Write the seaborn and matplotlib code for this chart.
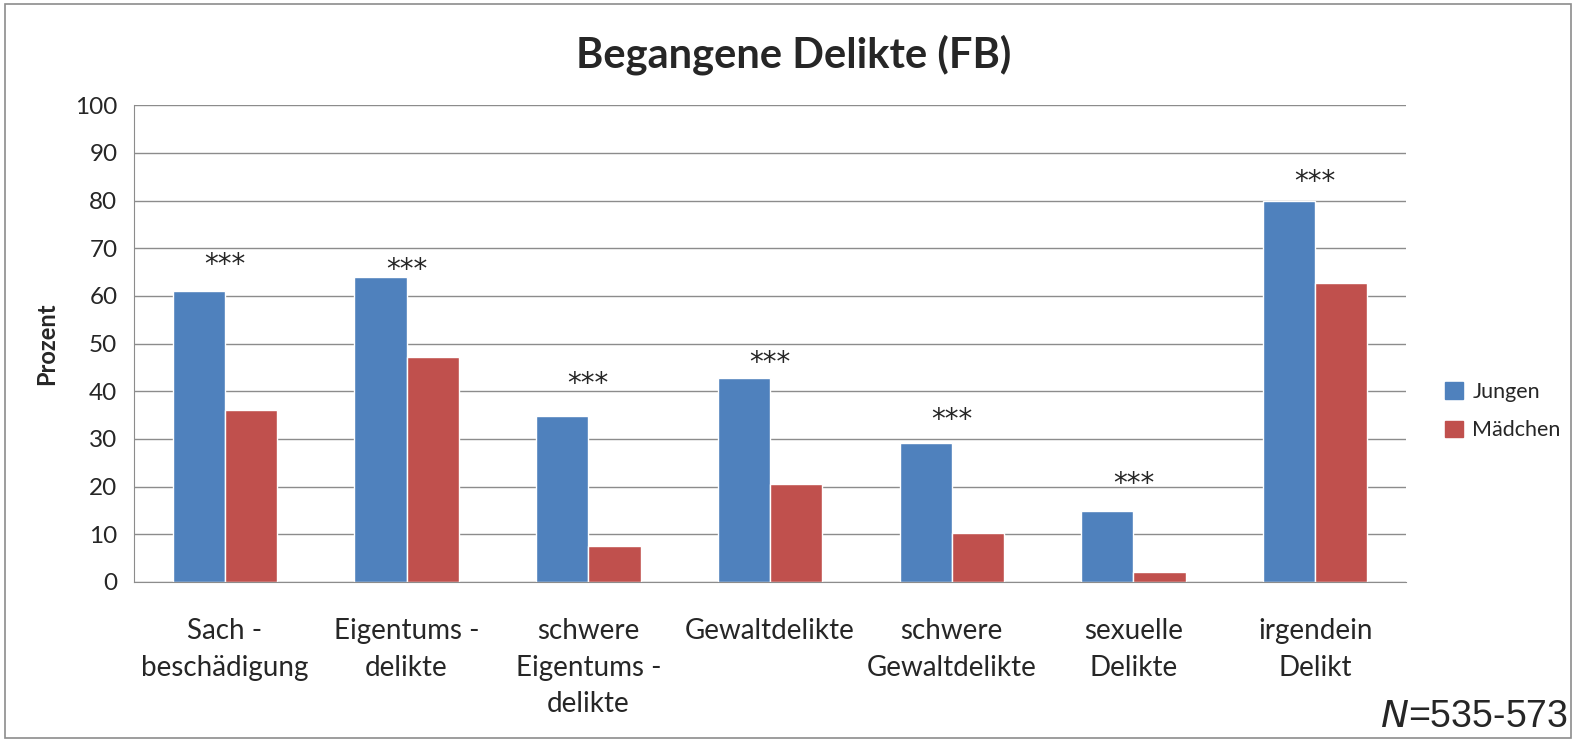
import pandas as pd
import matplotlib.pyplot as plt
import matplotlib.patches as mpatches
import seaborn as sns

categories = ['Sach -\nbeschädigung', 'Eigentums -\ndelikte', 'schwere\nEigentums -\ndelikte',
              'Gewaltdelikte', 'schwere\nGewaltdelikte', 'sexuelle\nDelikte', 'irgendein\nDelikt']
jungen = [61, 64, 34.8, 42.8, 29.2, 14.8, 80]
maedchen = [36, 47.2, 7.5, 20.6, 10.3, 2.1, 62.8]
stars = ['***'] * 7
star_y = [66.5, 65.5, 41.5, 46, 34, 20.5, 84]
groups = ['Jungen', 'Mädchen']
colors = ['#4F81BD', '#C0504D']


def main():
    df = pd.DataFrame({
        'Kategorie': categories * 2,
        'Prozent': jungen + maedchen,
        'Gruppe': [groups[0]] * 7 + [groups[1]] * 7,
    })

    sns.set_style('white')
    plt.rcParams['font.family'] = ['Lato', 'DejaVu Sans']

    fig = plt.figure(figsize=(15.77, 7.41), dpi=100)
    ax = fig.add_axes([0.085, 0.2146, 0.8066, 0.6434])

    sns.barplot(data=df, x='Kategorie', y='Prozent', hue='Gruppe', palette=colors,
                width=0.575, saturation=1, ax=ax, legend=False)

    ax.set_ylim(0, 100)
    ax.set_xlim(-0.5, 6.5)
    ax.set_yticks(range(0, 101, 10))
    ax.yaxis.grid(True, color='#8c8c8c', linewidth=1)
    ax.set_axisbelow(True)
    for s in ['top', 'right']:
        ax.spines[s].set_visible(False)
    for s in ['left', 'bottom']:
        ax.spines[s].set_color('#8c8c8c')
    ax.tick_params(axis='y', length=6, color='#8c8c8c', labelsize=17.5, pad=6)
    ax.tick_params(axis='x', which='major', length=0, labelsize=20, pad=26)
    ax.set_xticks([i - 0.5 for i in range(8)], minor=True)
    ax.tick_params(axis='x', which='minor', length=7, color='#8c8c8c')
    ax.set_xlabel('')
    ax.set_ylabel('Prozent', fontsize=17, fontweight='bold', labelpad=12)
    for lbl in ax.get_xticklabels():
        lbl.set_verticalalignment('top')
        lbl.set_linespacing(1.5)

    for i, (s, y) in enumerate(zip(stars, star_y)):
        ax.text(i, y, s, ha='center', va='center', fontsize=20, family='DejaVu Sans')

    fig.text(0.503, 0.926, 'Begangene Delikte (FB)', ha='center', va='center',
             fontsize=30, fontweight='bold')

    handles = [mpatches.Patch(color=c, label=g) for c, g in zip(colors, groups)]
    fig.legend(handles=handles, loc='center left', bbox_to_anchor=(0.907, 0.445),
               frameon=False, fontsize=15.5, handlelength=0.8, handleheight=0.8,
               handletextpad=0.45, labelspacing=0.85, borderpad=0.2)

    fig.text(0.994, 0.032, r'$\it{N}$=535-573', ha='right', va='center', fontsize=27,
             family='Liberation Sans')
    fig.patches.append(mpatches.Rectangle((0.003, 0.004), 0.993, 0.99, transform=fig.transFigure,
                                          fill=False, edgecolor='#8c8c8c', linewidth=1.2))

    fig.savefig('out.png', dpi=100)


if __name__ == '__main__':
    main()
